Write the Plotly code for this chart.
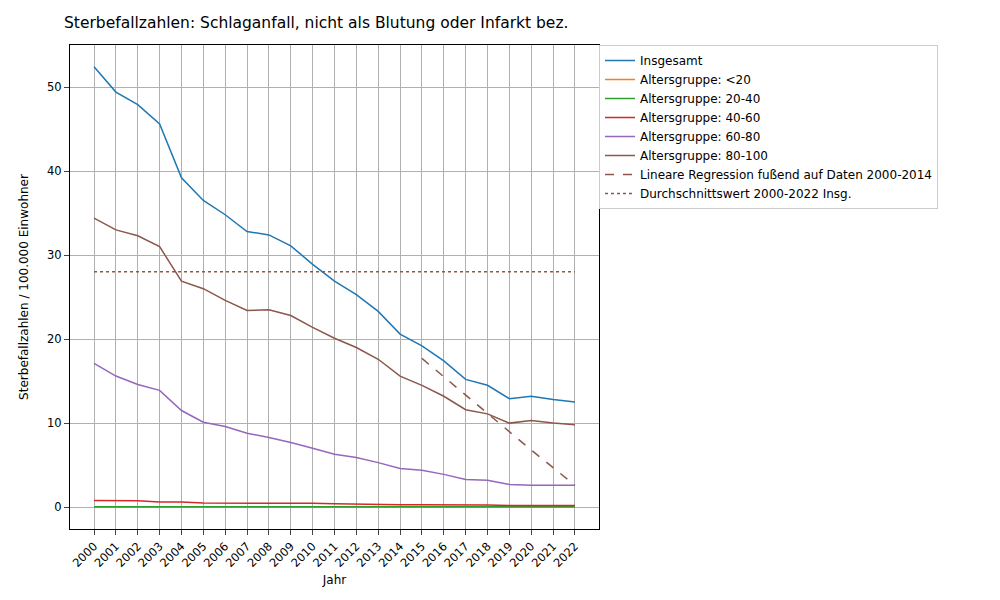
import plotly.graph_objects as go

years = list(range(2000, 2023))

insgesamt = [52.4, 49.4, 47.9, 45.6, 39.2, 36.5, 34.8, 32.8, 32.4, 31.1, 28.9, 26.9, 25.3,
             23.3, 20.6, 19.2, 17.4, 15.2, 14.5, 12.9, 13.2, 12.8, 12.5]
ag_u20 = [0.02] * 23
ag_20_40 = [0.06, 0.06, 0.06, 0.06, 0.05, 0.05, 0.05, 0.05, 0.05, 0.05, 0.05, 0.05, 0.05,
            0.05, 0.04, 0.04, 0.04, 0.04, 0.04, 0.04, 0.04, 0.04, 0.04]
ag_40_60 = [0.8, 0.8, 0.75, 0.6, 0.6, 0.5, 0.5, 0.45, 0.45, 0.45, 0.45, 0.4, 0.35,
            0.35, 0.3, 0.3, 0.3, 0.3, 0.25, 0.2, 0.2, 0.25, 0.2]
ag_60_80 = [17.1, 15.6, 14.6, 13.9, 11.5, 10.1, 9.6, 8.8, 8.3, 7.7, 7.0, 6.3, 5.9,
            5.3, 4.6, 4.4, 3.9, 3.3, 3.2, 2.7, 2.6, 2.6, 2.6]
ag_80_100 = [34.4, 33.0, 32.3, 31.0, 26.9, 26.0, 24.6, 23.4, 23.5, 22.8, 21.4, 20.1, 19.0,
             17.6, 15.6, 14.5, 13.2, 11.6, 11.1, 10.0, 10.3, 10.0, 9.8]
reg_years = list(range(2015, 2023))
reg_values = [17.7, 15.5, 13.4, 11.2, 9.0, 6.8, 4.7, 2.6]
mean_value = 28.0

fig = go.Figure()
series = [
    ("Insgesamt", insgesamt, "#1f77b4"),
    ("Altersgruppe: <20", ag_u20, "#ff7f0e"),
    ("Altersgruppe: 20-40", ag_20_40, "#2ca02c"),
    ("Altersgruppe: 40-60", ag_40_60, "#d62728"),
    ("Altersgruppe: 60-80", ag_60_80, "#9467bd"),
    ("Altersgruppe: 80-100", ag_80_100, "#8c564b"),
]
for name, vals, col in series:
    fig.add_trace(go.Scatter(x=years, y=vals, mode="lines", name=name,
                             line=dict(color=col, width=1.5)))

fig.add_trace(go.Scatter(x=reg_years, y=reg_values, mode="lines",
                         name="Lineare Regression fußend auf Daten 2000-2014",
                         line=dict(color="#8c564b", width=1.5, dash="dash")))
fig.add_trace(go.Scatter(x=years, y=[mean_value] * len(years), mode="lines",
                         name="Durchschnittswert 2000-2022 Insg.",
                         line=dict(color="#8c564b", width=1.5, dash="dot")))

fig.update_layout(
    width=1000, height=600,
    plot_bgcolor="white", paper_bgcolor="white",
    font=dict(family="DejaVu Sans", size=12, color="black"),
    margin=dict(l=62, r=409, t=37, b=79, autoexpand=False),
    title=dict(text="Sterbefallzahlen: Schlaganfall, nicht als Blutung oder Infarkt bez.",
               x=0.056, y=0.985, xanchor="left", yanchor="top", font=dict(size=15.5)),
    legend=dict(x=1.0, y=1.0, xanchor="left", yanchor="top", bordercolor="#cccccc",
                borderwidth=1, font=dict(size=12), tracegroupgap=0),
    xaxis=dict(title=dict(text="Jahr", standoff=6, font=dict(size=12)), range=[1998.9, 2023.1],
               tickmode="array", tickvals=years, ticktext=[str(y) for y in years],
               tickangle=-45, tickfont=dict(size=11.5), automargin=False,
               showgrid=True, gridcolor="#b0b0b0", showline=True, linecolor="black",
               mirror=True, ticks="outside", zeroline=False),
    yaxis=dict(title=dict(text="Sterbefallzahlen / 100.000 Einwohner", font=dict(size=12)),
               range=[-2.6, 55], tickvals=[0, 10, 20, 30, 40, 50], tickfont=dict(size=11.5),
               automargin=False, showgrid=True, gridcolor="#b0b0b0",
               showline=True, linecolor="black", mirror=True, ticks="outside",
               zeroline=False),
)

fig.write_html("out.html")
